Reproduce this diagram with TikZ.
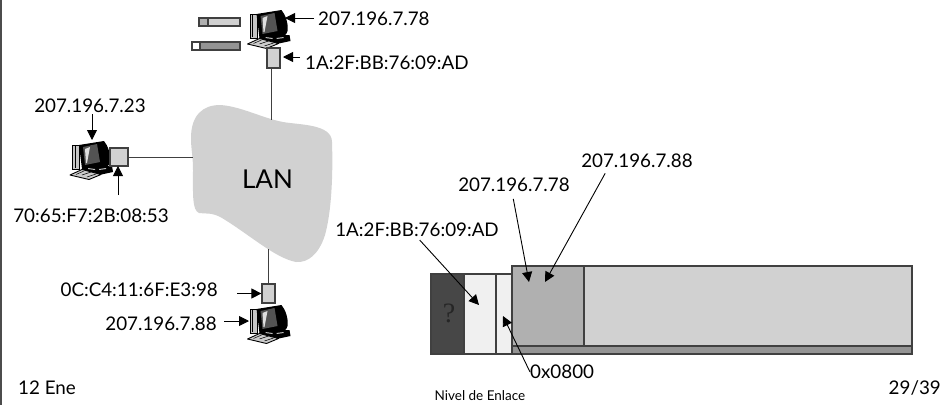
\documentclass[tikz,border=0pt]{standalone}
\usepackage{fontspec}
\setmainfont{Lato}
\newfontfamily\qmfont{Liberation Serif}
\usetikzlibrary{arrows.meta}
\definecolor{lanfill}{gray}{0.82}
\definecolor{hdrdark}{gray}{0.28}
\definecolor{hdrlight}{gray}{0.94}
\definecolor{ipfill}{gray}{0.69}
\definecolor{datafill}{gray}{0.82}
\definecolor{tailfill}{gray}{0.58}
\tikzset{
  lbl/.style={font=\fontsize{18.8}{21}\selectfont,inner sep=0pt},
  nic/.style={draw=black!75,line width=1.2pt,fill=lanfill,inner sep=0pt},
  wire/.style={draw=black!75,line width=1pt},
  ptr/.style={-{Triangle[length=10pt,width=10pt]},line width=0.9pt},
  cell/.style={draw=black!75,line width=1.3pt},
  pics/pc/.style={code={
    \fill[gray!45,draw=black,line width=0.6pt] (-18.5,-15) rectangle (-11.5,9);
    \draw[black,line width=0.5pt] (-16,-14) -- (-16,8);
    \fill[black] (-12,-15) -- (13,-19) .. controls (17,-14) and (20,-6) .. (19,2)
      .. controls (18,6) and (15,8) .. (12,8) -- (-9,9) -- cycle;
    \fill[gray!65!black] (-8,-13) -- (6,-16) -- (9,2) -- (-6,5) -- cycle;
    \fill[gray!25] (-6,-11) -- (-1,-13) -- (-4,3) -- (-5,3) -- cycle;
    \fill[black] (-9,6) -- (21,6) -- (22,12) -- (8,15) -- (-9,10) -- cycle;
    \fill[gray!50] (-3,8) -- (4,9) -- (4,10) -- (-3,9) -- cycle;
    \fill[gray!50] (8,9) -- (15,8) -- (15,9) -- (8,10) -- cycle;
    \fill[gray!40,draw=black,line width=0.9pt,line join=round] (-21,15) -- (-9,9.5) -- (10,14.5) -- (-2,19.5) -- cycle;
    \draw[black,line width=0.5pt] (-15,14.5) -- (-7,11) (-9,15) -- (0,12) (-4,17) -- (5,14);
  }}
}
\begin{document}
\begin{tikzpicture}[x=1pt,y=-1pt]
  \useasboundingbox (0,0) rectangle (944,405);
  \fill[gray!60!black] (0,0) rectangle (1.8,405);

  % lan
  \fill[lanfill] (191,138) .. controls (191,115) and (203,105) .. (220,105)
    .. controls (240,106) and (262,118) .. (283,122)
    .. controls (300,125) and (332,124) .. (332,142)
    .. controls (333,170) and (332,210) .. (325,235)
    .. controls (319,254) and (308,263) .. (296,262)
    .. controls (275,258) and (250,235) .. (222,218)
    .. controls (212,212) and (205,214) .. (199,213)
    .. controls (192,210) and (193,195) .. (193,170)
    .. controls (193,155) and (191,150) .. (191,138) -- cycle;
  \node[lbl,font=\fontsize{26}{28}\selectfont] (lan) at (267.5,179) {LAN};
  \coordinate (lanA) at (271,120);
  \coordinate (lanB) at (193,157);
  \coordinate (lanC) at (268.5,249);

  % top host
  \pic at (268.5,29) {pc};
  \node[nic,minimum width=13pt,minimum height=20pt] (nicA) at (273.5,58) {};
  \draw[wire] (nicA.south -| lanA) -- (lanA);
  \fill[lanfill,draw=black!75,line width=1.2pt] (199,18) rectangle (240,26);
  \fill[ipfill,draw=black!75,line width=1.2pt] (199,18) rectangle (208,26);
  \fill[tailfill,draw=black!75,line width=1.2pt] (192,42) rectangle (240,50);
  \fill[white,draw=black!75,line width=1.2pt] (192,42) rectangle (200,50);
  \node[lbl,anchor=west] (ipA) at (318,19) {207.196.7.78};
  \node[lbl,anchor=west] (macA) at (305,63) {1A:2F:BB:76:09:AD};
  \coordinate (tipA) at (285,18);
  \coordinate (tipMacA) at (283,57);
  \draw[ptr,shorten <=4pt] (ipA.west |- tipA) -- (tipA);
  \draw[ptr] (300,57) -- (tipMacA);

  % left host
  \pic at (91,160) {pc};
  \node[nic,minimum width=18pt,minimum height=18pt] (nicB) at (119,157) {};
  \draw[wire] (nicB.east) -- (lanB);
  \node[lbl] (ipB) at (90,106) {207.196.7.23};
  \node[lbl] (macB) at (91,216) {70:65:F7:2B:08:53};
  \coordinate (tipB) at (92,140);
  \draw[ptr,shorten <=1pt] (ipB.south -| tipB) -- (tipB);
  \coordinate (tipMacB) at (118,166);
  \draw[ptr] (118,195) -- (tipMacB);

  % bottom host
  \pic at (268.5,324) {pc};
  \node[nic,minimum width=13pt,minimum height=19pt] (nicC) at (268.5,293.5) {};
  \draw[wire] (nicC.north) -- (lanC);
  \node[lbl,anchor=east] (macC) at (218,290) {0C:C4:11:6F:E3:98};
  \node[lbl,anchor=east] (ipC) at (217,324) {207.196.7.88};
  \draw[ptr,shorten <=19pt] (macC.east |- nicC.west) -- (nicC.west);
  \coordinate (tipC) at (249,321);
  \draw[ptr,shorten <=7pt] (ipC.east |- tipC) -- (tipC);

  % frame
  \fill[tailfill,cell] (512,266) rectangle (912,354);
  \fill[datafill,cell] (584,266) rectangle (912,346);
  \fill[ipfill,cell] (512,266) rectangle (584,346);
  \fill[hdrdark,cell] (431,274) rectangle (464,354);
  \fill[hdrlight,cell] (464,274) rectangle (496,354);
  \fill[hdrlight,cell] (496,274) rectangle (512,354);
  \node[font=\fontsize{28}{30}\selectfont\qmfont,text=black!85,inner sep=0pt] (qm) at (449,313) {?};

  \node[lbl] (macD) at (417,230) {1A:2F:BB:76:09:AD};
  \node[lbl] (ipD) at (514,185) {207.196.7.78};
  \node[lbl] (ipE) at (637,161) {207.196.7.88};
  \node[lbl,anchor=west] (etype) at (530,372) {0x0800};
  \node[lbl,font=\fontsize{13.5}{15}\selectfont] (layer) at (480,396) {Nivel de Enlace};
  \node[lbl,anchor=west] (date) at (18,388) {12 Ene};
  \node[lbl,anchor=east] (page) at (941,388) {29/39};
  \coordinate (tipMac) at (479,305);
  \coordinate (tipDst) at (529,282);
  \coordinate (tipSrc) at (545,282);
  \coordinate (tipType) at (503,316);
  \draw[ptr,shorten <=4pt] (macD.south) -- (tipMac);
  \draw[ptr,shorten <=7pt] ([xshift=-2pt]ipD.south) -- (tipDst);
  \draw[ptr,shorten <=6pt] ([xshift=27pt]ipE.south west) -- (tipSrc);
  \draw[ptr] (etype.west) -- (tipType);
\end{tikzpicture}
\end{document}
